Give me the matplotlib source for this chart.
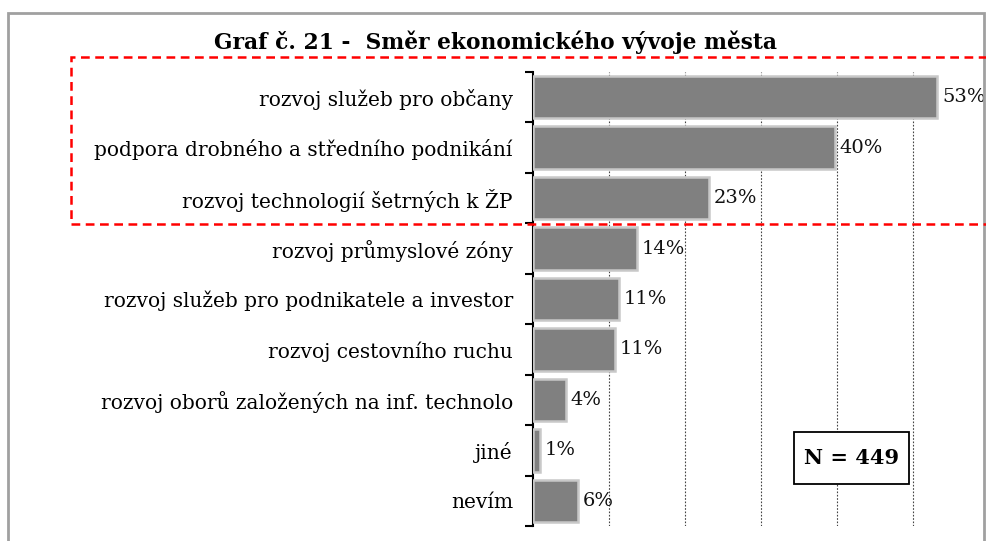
import matplotlib
matplotlib.use('Agg')
import matplotlib.pyplot as plt
import numpy as np
from matplotlib.patches import Rectangle

# data (top to bottom)
categories = [
    'rozvoj služeb pro občany',
    'podpora drobného a středního podnikání',
    'rozvoj technologií šetrných k ŽP',
    'rozvoj průmyslové zóny',
    'rozvoj služeb pro podnikatele a investor',
    'rozvoj cestovního ruchu',
    'rozvoj oborů založených na inf. technolo',
    'jiné',
    'nevím',
]
values = [53.2, 39.7, 23.2, 13.7, 11.3, 10.8, 4.3, 0.9, 5.9]
labels = ['53%', '40%', '23%', '14%', '11%', '11%', '4%', '1%', '6%']
title = 'Graf č. 21 -  Směr ekonomického vývoje města'
n_text = 'N = 449'

W, H = 987, 541
plt.rcParams['font.family'] = ['DejaVu Serif']

fig = plt.figure(figsize=(W / 100, H / 100), dpi=100)
ax = fig.add_axes([533 / W, 1 - 526 / H, 451 / W, 454 / H])

y = np.arange(len(categories))
ax.barh(y, values, height=0.84, color='#808080', edgecolor='#c8c8c8', linewidth=1.8, zorder=3)
for yi, v, lab in zip(y, values, labels):
    ax.text(v + 0.6, yi, lab, va='center', ha='left', fontsize=14, color='#111111', zorder=4)

ax.set_xlim(0, 451 / 7.6)
ax.set_ylim(len(categories) - 0.5, -0.5)

ax.set_xticks([10, 20, 30, 40, 50])
ax.tick_params(axis='x', length=0, labelbottom=False)
ax.grid(axis='x', linestyle=(0, (1.5, 1.5)), color='#444444', linewidth=0.8, zorder=0)

ax.set_yticks(y)
ax.set_yticklabels(categories, fontsize=14.5)
ax.tick_params(axis='y', which='major', length=0, pad=14.5)
ax.set_yticks(np.arange(-0.5, len(categories)), minor=True)
ax.tick_params(axis='y', which='minor', length=6, width=1.5, color='black')

for s in ['top', 'right', 'bottom']:
    ax.spines[s].set_visible(False)
ax.spines['left'].set_linewidth(1.5)

# title
fig.text(495 / W, 1 - 42 / H, title, ha='center', va='center', fontsize=15.7, fontweight='bold')

# N box
fig.patches.append(Rectangle((794 / W, 1 - 484 / H), 115 / W, 52 / H, transform=fig.transFigure,
                             facecolor='white', edgecolor='black', linewidth=1.3, zorder=5))
fig.text(851.5 / W, 1 - 458 / H, n_text, ha='center', va='center',
         fontsize=15, fontweight='bold', zorder=6)

# outer gray frame
fig.patches.append(Rectangle((8 / W, -0.1), 976 / W, 1.1 - 13 / H, transform=fig.transFigure,
                             fill=False, edgecolor='#a0a0a0', linewidth=2, clip_on=False))
# red dashed highlight
fig.patches.append(Rectangle((71 / W, 1 - 224 / H), 1.0, 167 / H, transform=fig.transFigure,
                             fill=False, edgecolor='red', linewidth=1.8, linestyle=(0, (3.5, 2.2)),
                             clip_on=False, zorder=6))

fig.savefig('out.png', dpi=100)
